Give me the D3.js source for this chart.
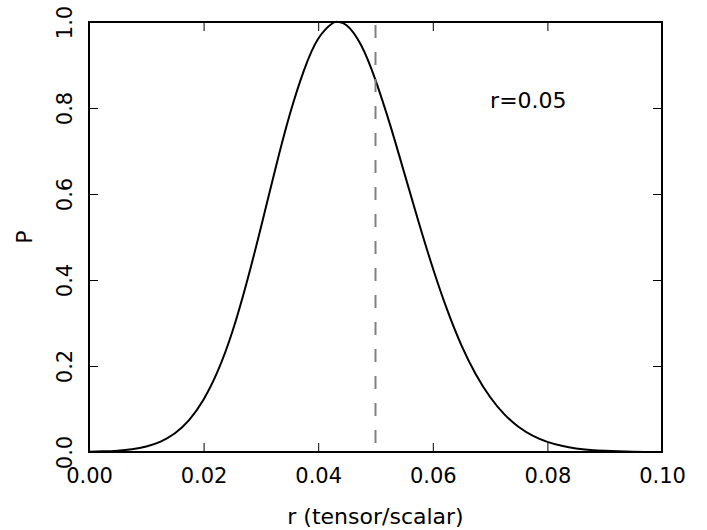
<!DOCTYPE html>
<html>
<head>
<meta charset="utf-8">
<script src="https://cdn.jsdelivr.net/npm/d3@7"></script>
<style>
  body { margin: 0; background: #fff; }
  text { font-family: 'DejaVu Sans', sans-serif; fill: #000; }
</style>
</head>
<body>
<div class="chart-container"></div>
<script>
// r values (tensor/scalar) and normalised P
let rValues = [0, 0.0025, 0.005, 0.0075, 0.01, 0.0125, 0.015, 0.0175, 0.02, 0.0225,
  0.025, 0.0275, 0.03, 0.0325, 0.035, 0.0375, 0.04, 0.0425, 0.0435, 0.045,
  0.0475, 0.05, 0.0525, 0.055, 0.0575, 0.06, 0.0625, 0.065, 0.0675, 0.07,
  0.0725, 0.075, 0.0775, 0.08, 0.0825, 0.085, 0.0875, 0.09, 0.095, 0.1]
let pValues = [0.0007, 0.0015, 0.0032, 0.0066, 0.0129, 0.0243, 0.0435, 0.0746, 0.122, 0.189,
  0.279, 0.393, 0.522, 0.657, 0.783, 0.887, 0.961, 0.997, 1.0, 0.992,
  0.946, 0.865, 0.763, 0.65, 0.536, 0.428, 0.331, 0.248, 0.181, 0.128,
  0.0874, 0.0581, 0.0375, 0.0235, 0.0143, 0.0084, 0.0048, 0.0027, 0.00075, 0.0002]

let xTicks = [0, 0.02, 0.04, 0.06, 0.08, 0.1]
let yTicks = [0, 0.2, 0.4, 0.6, 0.8, 1.0]
let markerR = 0.05
let label = 'r=0.05'

let margin = { top: 22, right: 45, bottom: 78, left: 89 },
    width = 707 - margin.left - margin.right,
    height = 530 - margin.top - margin.bottom

let data = rValues.map((r, i) => ({ r: r, p: pValues[i] }))

let x = d3.scaleLinear().domain([0, 0.1]).range([0, width])
let y = d3.scaleLinear().domain([0, 1]).range([height, 0])

let svg = d3.select('.chart-container')
  .append('svg')
  .attr('width', 707)
  .attr('height', 530)

let g = svg.append('g')
  .attr('transform', `translate(${margin.left},${margin.top})`)

// curve
let line = d3.line()
  .x(d => x(d.r))
  .y(d => y(d.p))
  .curve(d3.curveNatural)

g.append('path')
  .datum(data)
  .attr('d', line)
  .attr('fill', 'none')
  .attr('stroke', '#000')
  .attr('stroke-width', 2)

// dashed marker
g.append('line')
  .attr('x1', x(markerR)).attr('x2', x(markerR))
  .attr('y1', y(1)).attr('y2', y(0))
  .attr('stroke', '#808080')
  .attr('stroke-width', 2)
  .attr('stroke-dasharray', '13,14')
  .attr('stroke-dashoffset', 24)

g.append('text')
  .attr('x', x(0.07))
  .attr('y', y(0.8))
  .attr('font-size', 22)
  .text(label)

// axes, ticks inward on all sides
function fmt2 (d) { return d.toFixed(2) }
function fmt1 (d) { return d.toFixed(1) }

let axBottom = g.append('g').attr('transform', `translate(0,${height})`)
  .call(d3.axisBottom(x).tickValues(xTicks).tickFormat(fmt2).tickSizeInner(-9).tickSizeOuter(0).tickPadding(16))
let axTop = g.append('g')
  .call(d3.axisTop(x).tickValues(xTicks).tickFormat('').tickSizeInner(-9).tickSizeOuter(0))
let axLeft = g.append('g')
  .call(d3.axisLeft(y).tickValues(yTicks).tickFormat(fmt1).tickSizeInner(-9).tickSizeOuter(0))
let axRight = g.append('g').attr('transform', `translate(${width},0)`)
  .call(d3.axisRight(y).tickValues(yTicks).tickFormat('').tickSizeInner(-9).tickSizeOuter(0))

;[axBottom, axTop, axLeft, axRight].forEach(a => {
  a.select('.domain').remove()
  a.selectAll('.tick line').attr('stroke', '#000').attr('stroke-width', 1)
})

axBottom.selectAll('text')
  .attr('font-size', 21)
  .attr('font-family', "'DejaVu Sans', sans-serif")
  .attr('dy', '0.71em')

axLeft.selectAll('.tick text')
  .attr('font-size', 21)
  .attr('font-family', "'DejaVu Sans', sans-serif")
  .attr('text-anchor', 'middle')
  .attr('x', 0)
  .attr('dy', 0)
  .attr('transform', 'translate(-24,0) rotate(-90) translate(0,7)')

// frame
g.append('rect')
  .attr('width', width)
  .attr('height', height)
  .attr('fill', 'none')
  .attr('stroke', '#000')
  .attr('stroke-width', 2)

// axis titles
svg.append('text')
  .attr('x', margin.left + width / 2)
  .attr('y', 524)
  .attr('text-anchor', 'middle')
  .attr('font-size', 22)
  .text('r (tensor/scalar)')

svg.append('text')
  .attr('transform', `translate(32,${margin.top + height / 2}) rotate(-90)`)
  .attr('text-anchor', 'middle')
  .attr('font-size', 22)
  .text('P')
</script>
</body>
</html>
